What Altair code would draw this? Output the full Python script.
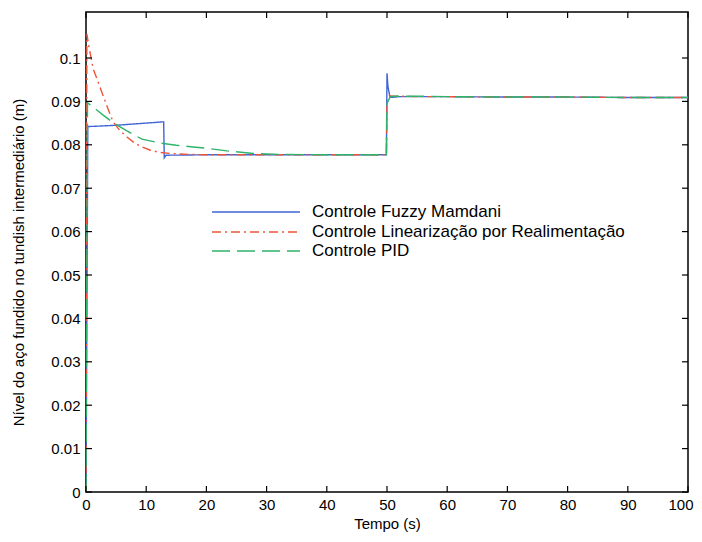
import altair as alt
import pandas as pd

# ---- data ----
fuzzy_t = [0, 0.3, 2, 5, 8, 11, 12.9, 13.0, 13.3, 20, 30, 40, 49.9, 50.0, 50.15, 50.5, 52, 60, 70, 80, 90, 100]
fuzzy_v = [0, 0.0842, 0.0843, 0.0845, 0.0848, 0.0851, 0.0853, 0.0770, 0.0776, 0.0777, 0.0777, 0.0777, 0.0777,
           0.0965, 0.0935, 0.0909, 0.0911, 0.0911, 0.0910, 0.0910, 0.0909, 0.0909]

lin_t = [0, 0.15, 0.5, 1.2, 2, 2.8, 3.6, 4.5, 5.5, 6.8, 8, 9, 10.6, 12, 14, 17, 20, 30, 40, 49.9,
         50.0, 50.4, 51, 52, 55, 60, 70, 80, 90, 100]
lin_v = [0, 0.1055, 0.1025, 0.0975, 0.0945, 0.0915, 0.0885, 0.0853, 0.0835, 0.0818, 0.0805, 0.0797, 0.0788,
         0.0783, 0.0780, 0.0778, 0.0777, 0.0777, 0.0777, 0.0777,
         0.0895, 0.0913, 0.0912, 0.0912, 0.0911, 0.0911, 0.0910, 0.0910, 0.0909, 0.0909]

pid_t = [0, 0.25, 0.7, 2, 2.8, 4.5, 6.8, 9.3, 12.3, 15, 17.8, 20, 23.4, 27.8, 32, 40, 49.9,
         50.0, 50.5, 51, 55, 60, 70, 80, 90, 100]
pid_v = [0, 0.0897, 0.0892, 0.0878, 0.0869, 0.0851, 0.0832, 0.0813, 0.0804, 0.0799, 0.0795, 0.0792, 0.0786,
         0.0780, 0.0778, 0.0777, 0.0777,
         0.0895, 0.0910, 0.0912, 0.0912, 0.0911, 0.0910, 0.0910, 0.0909, 0.0909]

series_names = ["Controle Fuzzy Mamdani", "Controle Linearização por Realimentação", "Controle PID"]
series_colors = ["#4066d6", "#f0553a", "#2fb36b"]
series_dash = [[1, 0], [9, 4, 2, 4], [18, 7]]

x_ticks = [0, 10, 20, 30, 40, 50, 60, 70, 80, 90, 100]
y_ticks = [0, 0.01, 0.02, 0.03, 0.04, 0.05, 0.06, 0.07, 0.08, 0.09, 0.1]

W, H = 602, 480
FONT = "Liberation Sans"

xscale = alt.Scale(domain=[0, 100], nice=False, zero=False)
yscale = alt.Scale(domain=[0, 0.1106], nice=False, zero=False)

xaxis = alt.Axis(values=x_ticks, ticks=False, domain=False, grid=False, labelFont=FONT, labelFontSize=15,
                 labelColor="black", labelPadding=5, labelFlush=False, format="d",
                 labelAlign=alt.condition("datum.value == 100", alt.value("right"), alt.value("center")),
                 labelOffset=alt.condition("datum.value == 100", alt.value(5), alt.value(0)),
                 title="Tempo (s)", titleFont=FONT, titleFontSize=15,
                 titleFontWeight="normal", titleColor="black", titleY=31, titleBaseline="middle")
yaxis = alt.Axis(values=y_ticks, ticks=False, domain=False, grid=False, labelFont=FONT, labelFontSize=15,
                 labelColor="black", labelPadding=6, labelFlush=False, format="~g",
                 title="Nível do aço fundido no tundish intermediário (m)", titleFont=FONT,
                 titleFontSize=15, titleFontWeight="normal", titleColor="black",
                 titleX=-68, titleY=250, titleAngle=-90, titleBaseline="middle")

data_sets = [(fuzzy_t, fuzzy_v), (lin_t, lin_v), (pid_t, pid_v)]
layers = []
for i, (ts, vs) in enumerate(data_sets):
    df = pd.DataFrame({"t": ts, "v": vs})
    layers.append(
        alt.Chart(df).mark_line(color=series_colors[i], strokeWidth=1.4, strokeDash=series_dash[i],
                                clip=True).encode(
            x=alt.X("t:Q", scale=xscale, axis=xaxis),
            y=alt.Y("v:Q", scale=yscale, axis=yaxis),
            order="t:Q",
        )
    )

# inward ticks (MATLAB box style)
xt = pd.DataFrame({"t": x_ticks})
yt = pd.DataFrame({"v": y_ticks})
TL = 6
for y0, y1 in [(H, H - TL), (0, TL)]:
    layers.append(alt.Chart(xt).mark_rule(color="black", strokeWidth=1.2).encode(
        x=alt.X("t:Q", scale=xscale, axis=xaxis), y=alt.value(y0), y2=alt.value(y1)))
for x0, x1 in [(0, TL), (W, W - TL)]:
    layers.append(alt.Chart(yt).mark_rule(color="black", strokeWidth=1.2).encode(
        y=alt.Y("v:Q", scale=yscale, axis=yaxis), x=alt.value(x0), x2=alt.value(x1)))

# legend (no frame)
leg_y = [200, 220, 239]
for i, name in enumerate(series_names):
    ld = pd.DataFrame({"label": [name]})
    layers.append(alt.Chart(ld).mark_rule(color=series_colors[i], strokeWidth=1.4,
                                          strokeDash=series_dash[i]).encode(
        x=alt.value(126), x2=alt.value(214), y=alt.value(leg_y[i])))
    layers.append(alt.Chart(ld).mark_text(align="left", baseline="middle", font=FONT, fontSize=17,
                                          color="black").encode(
        x=alt.value(226), y=alt.value(leg_y[i]), text="label:N"))

chart = alt.layer(*layers).properties(
    width=W, height=H,
    autosize=alt.AutoSizeParams(type="none"),
    padding={"left": 78, "top": 4, "right": 6, "bottom": 42},
    background="white",
).configure_view(stroke="black", strokeWidth=1.5)

chart.save("out.html", embed_options={"renderer": "svg", "actions": False})
